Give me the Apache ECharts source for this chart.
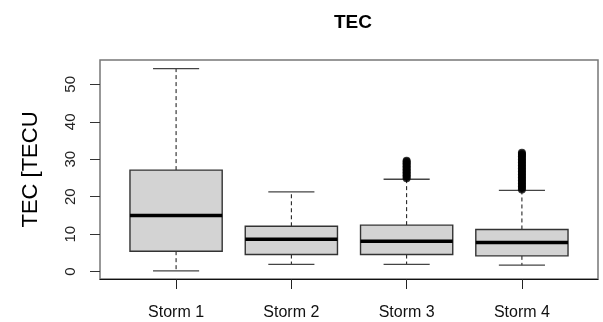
<!DOCTYPE html>
<html>
<head>
<meta charset="utf-8">
<script src="https://cdn.jsdelivr.net/npm/echarts@6/dist/echarts.min.js"></script>
<style>
  html, body { margin: 0; padding: 0; background: #fff; }
  #chart { width: 603px; height: 322px; }
</style>
</head>
<body>
<div id="chart"></div>
<script>
// ---- data ----
const categories = ['Storm 1', 'Storm 2', 'Storm 3', 'Storm 4'];
const lowerWhisker = [0.2, 1.95, 1.95, 1.7];
const q1Values = [5.45, 4.55, 4.55, 4.2];
const medianValues = [15.0, 8.65, 8.1, 7.75];
const q3Values = [27.1, 12.1, 12.4, 11.25];
const upperWhisker = [54.2, 21.3, 24.65, 21.7];
const outliersStorm3 = [24.9, 25.3, 25.7, 26.1, 26.5, 26.9, 27.3, 27.7, 28.1, 28.5, 28.9, 29.3, 29.6];
const outliersStorm4 = [21.9, 22.3, 22.7, 23.1, 23.5, 23.9, 24.3, 24.7, 25.1, 25.5, 25.9, 26.3, 26.7,
                        27.1, 27.5, 27.9, 28.3, 28.7, 29.1, 29.5, 29.9, 30.3, 30.7, 31.1, 31.4, 31.7];
const yTicks = [0, 10, 20, 30, 40, 50];
const title = 'TEC';
const yName = 'TEC [TECU';

// ---- build series data ----
const boxData = categories.map((c, i) => [i + 1, lowerWhisker[i], q1Values[i], medianValues[i], q3Values[i], upperWhisker[i]]);
const outlierData = [];
outliersStorm3.forEach(v => outlierData.push([3, v]));
outliersStorm4.forEach(v => outlierData.push([4, v]));
const xTicks = categories.map((c, i) => i + 1);

function renderBox(params, api) {
  const x = api.value(0);
  const lw = api.coord([x, api.value(1)]);
  const q1 = api.coord([x, api.value(2)]);
  const md = api.coord([x, api.value(3)]);
  const q3 = api.coord([x, api.value(4)]);
  const uw = api.coord([x, api.value(5)]);
  const bw = api.size([0.8, 0])[0];
  const cw = bw / 2;
  const cx = md[0];
  const dash = { stroke: '#111', lineWidth: 1, lineDash: [4, 3] };
  const cap = { stroke: '#444', lineWidth: 1.3 };
  return {
    type: 'group',
    children: [
      { type: 'line', shape: { x1: cx, y1: q3[1], x2: cx, y2: uw[1] }, style: dash },
      { type: 'line', shape: { x1: cx, y1: q1[1], x2: cx, y2: lw[1] }, style: dash },
      { type: 'line', shape: { x1: cx - cw / 2, y1: uw[1], x2: cx + cw / 2, y2: uw[1] }, style: cap },
      { type: 'line', shape: { x1: cx - cw / 2, y1: lw[1], x2: cx + cw / 2, y2: lw[1] }, style: cap },
      { type: 'rect', shape: { x: cx - bw / 2, y: q3[1], width: bw, height: q1[1] - q3[1] },
        style: { fill: '#d3d3d3', stroke: '#333', lineWidth: 1.4 } },
      { type: 'line', shape: { x1: cx - bw / 2, y1: md[1], x2: cx + bw / 2, y2: md[1] },
        style: { stroke: '#000', lineWidth: 3.5 } }
    ]
  };
}

const chart = echarts.init(document.getElementById('chart'), null, { renderer: 'canvas' });
chart.setOption({
  animation: false,
  backgroundColor: '#fff',
  title: {
    text: title,
    left: 329,
    top: 8,
    textStyle: { fontFamily: 'Liberation Sans, Arial', fontWeight: 'bold', fontSize: 19, color: '#000' }
  },
  grid: {
    left: 100, right: 5, top: 60, bottom: 43,
    show: true, borderColor: '#777', borderWidth: 1.5, backgroundColor: 'transparent'
  },
  xAxis: {
    type: 'value',
    min: 0.34, max: 4.66,
    splitLine: { show: false },
    axisLine: { show: true, onZero: false, lineStyle: { color: '#111', width: 1 } },
    axisTick: { show: true, customValues: xTicks, length: 10, lineStyle: { color: '#222' } },
    axisLabel: {
      customValues: xTicks,
      margin: 26,
      fontFamily: 'Liberation Sans, Arial', fontSize: 16, color: '#111',
      formatter: v => categories[Math.round(v) - 1] || ''
    }
  },
  yAxis: {
    type: 'value',
    min: -1.98, max: 56.5,
    name: yName,
    nameLocation: 'middle',
    nameRotate: 90,
    nameGap: 58,
    nameTextStyle: { fontFamily: 'Liberation Sans, Arial', fontSize: 22, color: '#000' },
    splitLine: { show: false },
    axisLine: { show: false },
    axisTick: { show: true, customValues: yTicks, length: 10, lineStyle: { color: '#333' } },
    axisLabel: {
      customValues: yTicks,
      rotate: 90,
      margin: 22,
      fontFamily: 'Liberation Sans, Arial', fontSize: 15, color: '#222'
    }
  },
  series: [
    {
      type: 'custom',
      renderItem: renderBox,
      data: boxData,
      encode: { x: 0, y: [1, 2, 3, 4, 5] },
      z: 2
    },
    {
      type: 'scatter',
      data: outlierData,
      symbol: 'circle',
      symbolSize: 8,
      itemStyle: { color: '#000' },
      z: 3
    }
  ]
});
</script>
</body>
</html>
